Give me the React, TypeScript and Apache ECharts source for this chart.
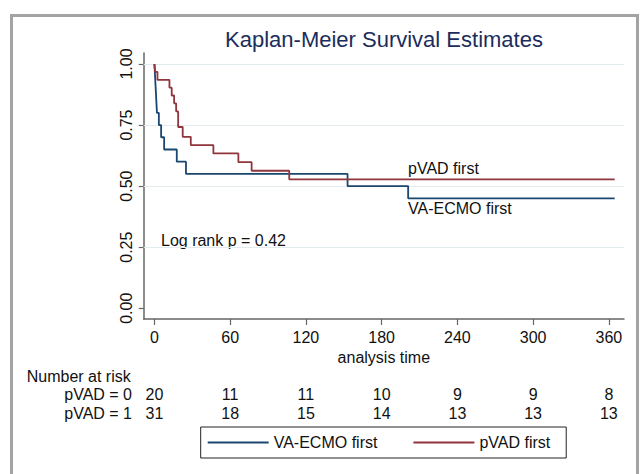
import React, { useEffect, useRef } from "react";
import * as echarts from "echarts";

const titleText = "Kaplan-Meier Survival Estimates";
const seriesNames = ["VA-ECMO first", "pVAD first"];
const ecmoTimes = [0, 0.5, 1, 1.5, 2, 3.5, 5.3, 7.7, 17.7, 25, 153, 201, 364.6];
const ecmoSurv = [1, 0.95, 0.9, 0.85, 0.8, 0.75, 0.7, 0.65, 0.6, 0.55, 0.5, 0.45, 0.45];
const pvadTimes = [0, 0.5, 2.4, 11.9, 13.7, 15.6, 17.2, 18.8, 22.4, 28.8, 46.7, 66.5, 77, 106.8, 364.6];
const pvadSurv = [1, 0.968, 0.935, 0.903, 0.871, 0.839, 0.806, 0.742, 0.702, 0.668, 0.634, 0.598, 0.563, 0.528, 0.528];
const xTicks = [0, 60, 120, 180, 240, 300, 360];
const yTicks = [0, 0.25, 0.5, 0.75, 1];
const gridValues = [0.25, 0.5, 0.75, 1];
const riskHeader = "Number at risk";
const riskLabels = ["pVAD = 0", "pVAD = 1"];
const riskPvad0 = [20, 11, 11, 10, 9, 9, 8];
const riskPvad1 = [31, 18, 15, 14, 13, 13, 13];
const xAxisName = "analysis time";
const logRankText = "Log rank p = 0.42";

const FONT = "'Liberation Sans', Arial, Helvetica, sans-serif";
const BLUE = "#1a476f";
const RED = "#90353b";
const TXT = "#111111";
const AXIS = "#666666";

export default function App() {
  const ref = useRef<HTMLDivElement>(null);
  useEffect(() => {
    if (!ref.current) return;
    const chart = echarts.init(ref.current, undefined, { renderer: "svg" });
    const ecmoData = ecmoTimes.map((t, i) => [t, ecmoSurv[i]]);
    const pvadData = pvadTimes.map((t, i) => [t, pvadSurv[i]]);
    chart.setOption({
      animation: false,
      backgroundColor: "#ffffff",
      title: {
        text: titleText,
        left: 384,
        top: 28,
        textAlign: "center",
        padding: 0,
        textStyle: { fontSize: 22, fontWeight: "normal", color: "#1b2d5c", fontFamily: FONT },
      },
      grid: { left: 143.7, right: 18, top: 53, bottom: 155, outerBoundsMode: "none" },
      legend: {
        data: seriesNames.map((n) => ({ name: n, icon: "rect" })),
        left: 200.7,
        top: 427,
        orient: "horizontal",
        itemWidth: 61,
        itemHeight: 2,
        itemGap: 36,
        padding: [7, 16, 7, 7],
        borderColor: "#222222",
        borderWidth: 1,
        textStyle: { fontSize: 16, color: TXT, fontFamily: FONT, lineHeight: 17 },
      },
      xAxis: {
        type: "value",
        min: -8.5,
        max: 372,
        name: xAxisName,
        nameLocation: "middle",
        nameGap: 26,
        nameTextStyle: { fontSize: 16, color: TXT, fontFamily: FONT },
        axisLine: { onZero: false, lineStyle: { color: AXIS, width: 1.5 } },
        axisTick: { show: true, length: 6, customValues: xTicks, lineStyle: { color: AXIS, width: 1.2 } },
        axisLabel: { customValues: xTicks, fontSize: 16, color: TXT, fontFamily: FONT, margin: 10 },
        splitLine: { show: false },
      },
      yAxis: {
        type: "value",
        min: -0.044,
        max: 1.045,
        axisLine: { show: true, onZero: false, lineStyle: { color: AXIS, width: 1.5 } },
        axisTick: { show: true, length: 5, customValues: yTicks, lineStyle: { color: AXIS, width: 1.2 } },
        axisLabel: {
          customValues: yTicks,
          rotate: 90,
          fontSize: 16,
          color: TXT,
          fontFamily: FONT,
          margin: 9,
          formatter: (v: number) => v.toFixed(2),
        },
        splitLine: { show: false },
      },
      series: [
        {
          name: "grid",
          type: "line",
          data: [],
          silent: true,
          markLine: {
            silent: true,
            symbol: ["none", "none"],
            label: { show: false },
            z: 1,
            lineStyle: { color: "#e2ebee", width: 1, type: "solid" },
            data: gridValues.map((v) => ({ yAxis: v })),
          },
        },
        {
          name: seriesNames[0],
          type: "line",
          step: "end",
          symbol: "none",
          showSymbol: false,
          z: 3,
          data: ecmoData,
          lineStyle: { color: BLUE, width: 1.8 },
          itemStyle: { color: BLUE },
        },
        {
          name: seriesNames[1],
          type: "line",
          step: "end",
          symbol: "none",
          showSymbol: false,
          z: 3,
          data: pvadData,
          lineStyle: { color: RED, width: 1.8 },
          itemStyle: { color: RED },
        },
      ],
    });

    const px = (t: number) => chart.convertToPixel({ xAxisIndex: 0 }, t) as number;
    const textStyle = { fontSize: 16, fill: TXT, fontFamily: FONT };
    const graphics: any[] = [
      {
        type: "rect",
        silent: true,
        shape: { x: 11.5, y: 15.5, width: 626, height: 480 },
        style: { fill: "none", stroke: "#a3a3a3", lineWidth: 3 },
      },
      { type: "text", x: 161, y: 240, style: { ...textStyle, text: logRankText, verticalAlign: "middle" } },
      { type: "text", x: 408, y: 168, style: { ...textStyle, text: seriesNames[1], verticalAlign: "middle" } },
      { type: "text", x: 408, y: 208, style: { ...textStyle, text: seriesNames[0], verticalAlign: "middle" } },
      { type: "text", x: 26.7, y: 376, style: { ...textStyle, text: riskHeader, verticalAlign: "middle" } },
      { type: "text", x: 132, y: 394, style: { ...textStyle, text: riskLabels[0], align: "right", verticalAlign: "middle" } },
      { type: "text", x: 132, y: 413, style: { ...textStyle, text: riskLabels[1], align: "right", verticalAlign: "middle" } },
    ];
    xTicks.forEach((t, i) => {
      const x = px(t);
      graphics.push({ type: "text", x, y: 394, style: { ...textStyle, text: String(riskPvad0[i]), align: "center", verticalAlign: "middle" } });
      graphics.push({ type: "text", x, y: 413, style: { ...textStyle, text: String(riskPvad1[i]), align: "center", verticalAlign: "middle" } });
    });
    chart.setOption({ graphic: graphics });
    return () => chart.dispose();
  }, []);
  return (
    <div
      ref={ref}
      style={{ position: "fixed", left: 0, top: 0, width: 642, height: 474, background: "#fff" }}
    />
  );
}
